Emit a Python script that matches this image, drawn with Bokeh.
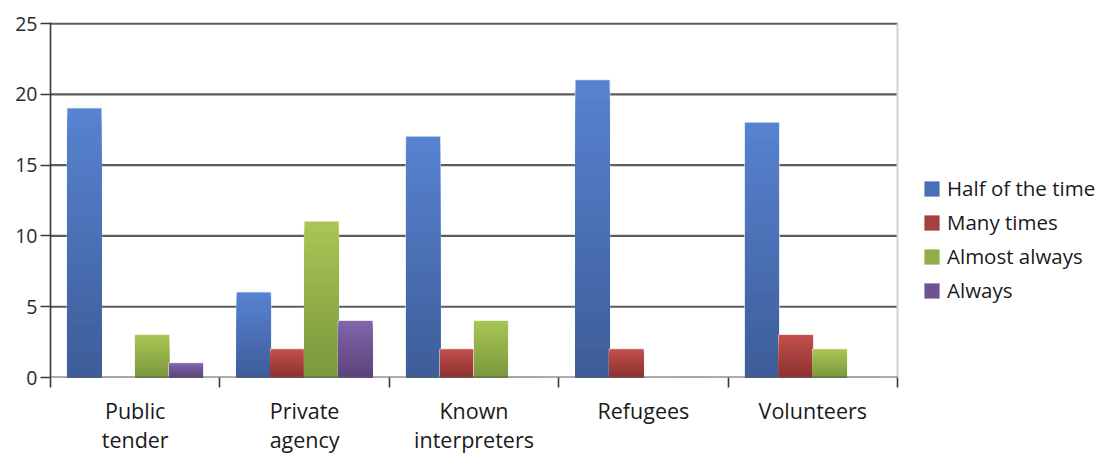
from bokeh.plotting import figure
from bokeh.models import ColumnDataSource, Range1d, FixedTicker, Legend, LegendItem
from bokeh.embed import file_html
from bokeh.resources import INLINE

# ---- data -------------------------------------------------------------
categories = ["Public tender", "Private agency", "Known interpreters", "Refugees", "Volunteers"]
category_labels = ["Public\ntender", "Private\nagency", "Known\ninterpreters", "Refugees", "Volunteers"]
series_names = ["Half of the time", "Many times", "Almost always", "Always"]
half_of_the_time = [19, 6, 17, 21, 18]
many_times = [0, 2, 2, 2, 3]
almost_always = [3, 11, 4, 0, 2]
always = [1, 4, 0, 0, 0]
y_ticks = [0, 5, 10, 15, 20, 25]

series_values = [half_of_the_time, many_times, almost_always, always]
# (top colour, bottom colour) of each series' vertical gradient
series_colors = [("#5782d0", "#3e5d99"),
                 ("#c24f4b", "#8c3230"),
                 ("#a8c454", "#7b993d"),
                 ("#8165aa", "#5c437c")]

FONT = "Open Sans"
N_STEPS = 30
BAR_W = 0.2
N = len(categories)
Y_MAX = y_ticks[-1]

# the frame runs to the right edge so the legend can sit beside the bars;
# the chart area itself spans x = 0 .. N
PLOT_W, FRAME_W, CHART_W = 1102, 1052, 847
X_END = N * FRAME_W / CHART_W


def mix(c1, c2, t):
    a = [int(c1[i:i + 2], 16) for i in (1, 3, 5)]
    b = [int(c2[i:i + 2], 16) for i in (1, 3, 5)]
    return "#%02x%02x%02x" % tuple(round(a[k] + (b[k] - a[k]) * t) for k in range(3))


p = figure(width=PLOT_W, height=456, output_backend="svg", toolbar_location=None,
           x_range=Range1d(0, X_END), y_range=Range1d(0, Y_MAX + 0.08),
           min_border_left=50, min_border_right=0, min_border_top=22, min_border_bottom=79)
p.background_fill_color = "white"
p.border_fill_color = "white"
p.outline_line_color = None
p.grid.grid_line_color = None

# horizontal grid lines and the light right edge of the chart area
grid_y = y_ticks[1:]
p.segment(x0=[0] * len(grid_y), x1=[N] * len(grid_y), y0=grid_y, y1=grid_y,
          line_color="#5c5c5c", line_width=2.2)
p.segment(x0=[N], x1=[N], y0=[0], y1=[Y_MAX], line_color="#d2d2d2", line_width=2)

legend_items = []
for j, (name, vals, (c_top, c_bot)) in enumerate(zip(series_names, series_values, series_colors)):
    x_pos = [i + 0.5 + (j - 1.5) * BAR_W for i in range(N)]
    # faint pale rim around each bar
    p.vbar(x=x_pos, top=vals, bottom=0, width=BAR_W, fill_color=None,
           line_color=mix(c_top, "#ffffff", 0.75), line_width=1.5)
    xs, tops, cols = [], [], []
    # overlapping bars from the full height down, each darker, give a top-to-bottom gradient
    for k in range(N_STEPS):
        frac = (N_STEPS - k) / N_STEPS
        col = mix(c_top, c_bot, k / (N_STEPS - 1))
        for i, v in enumerate(vals):
            xs.append(x_pos[i])
            tops.append(v * frac)
            cols.append(col)
    src = ColumnDataSource(dict(x=xs, top=tops, color=cols))
    r = p.vbar(x="x", top="top", bottom=0, width=BAR_W, fill_color="color",
               line_color=None, source=src)
    legend_items.append(LegendItem(label=name, renderers=[r], index=(N_STEPS // 2) * N))

# baseline at zero
p.segment(x0=[0], x1=[N], y0=[0], y1=[0], line_color="#5c5c5c", line_width=2.2)

# y axis
ya = p.yaxis[0]
ya.ticker = FixedTicker(ticks=y_ticks)
ya.axis_line_color = "#3a3a3a"
ya.axis_line_width = 1.6
ya.major_tick_line_color = "#3a3a3a"
ya.major_tick_line_width = 1.6
ya.major_tick_out = 10
ya.major_tick_in = 0
ya.minor_tick_line_color = None
ya.major_label_standoff = 3
ya.major_label_text_font = FONT
ya.major_label_text_font_size = "19.5px"
ya.major_label_text_color = "#2a2a2a"

# x axis: labels at category centres, tick marks on category boundaries
xa = p.xaxis[0]
xa.ticker = FixedTicker(ticks=[i + 0.5 for i in range(N)], minor_ticks=list(range(N + 1)))
xa.major_label_overrides = {i + 0.5: lab for i, lab in enumerate(category_labels)}
xa.axis_line_color = None
xa.major_tick_line_color = None
xa.major_tick_out = 10
xa.minor_tick_line_color = "#3a3a3a"
xa.minor_tick_line_width = 1.6
xa.minor_tick_out = 10
xa.minor_tick_in = 0
xa.major_label_standoff = 8
xa.major_label_text_font = FONT
xa.major_label_text_font_size = "21.5px"
xa.major_label_text_color = "#1a1a1a"
xa.major_label_text_line_height = 1.0

legend = Legend(items=legend_items, location=(872, 73),
                glyph_width=19, glyph_height=19, label_height=19, spacing=6,
                label_standoff=6, padding=0, margin=0,
                label_text_font=FONT, label_text_font_size="20.5px",
                label_text_color="#1a1a1a",
                border_line_color=None, background_fill_alpha=0)
p.add_layout(legend)

open("out.html", "w").write(file_html(p, INLINE))
